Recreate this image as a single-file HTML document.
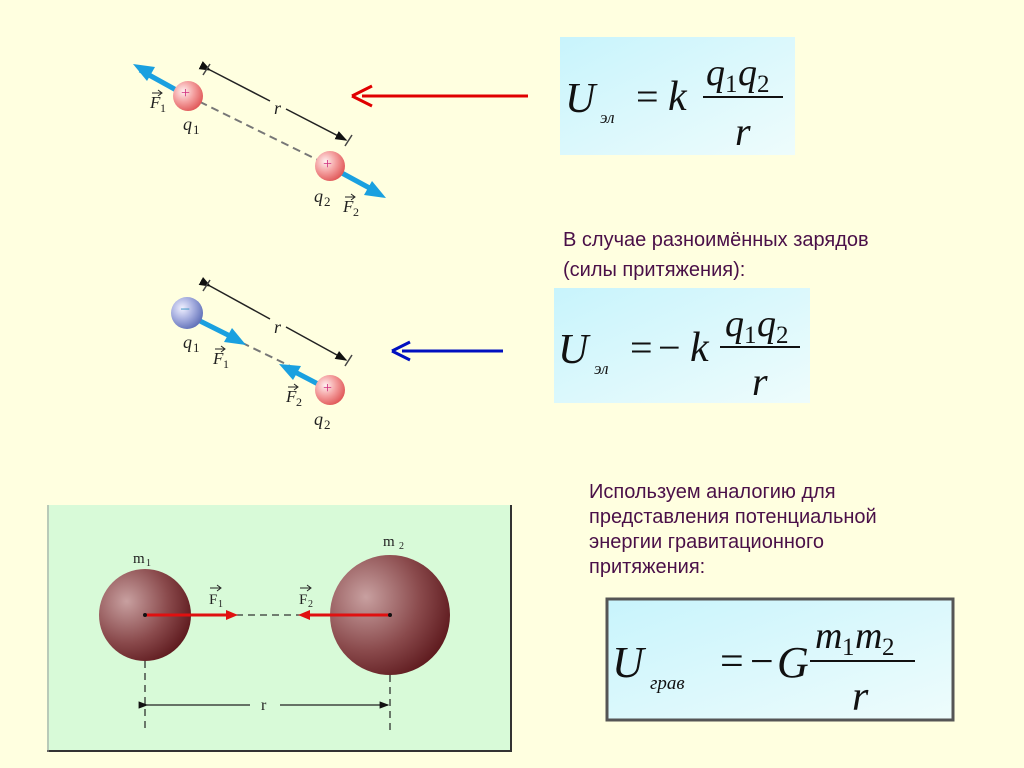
<!DOCTYPE html><html><head><meta charset="utf-8"><style>body{margin:0;background:#FFFFE0}svg{display:block}</style></head><body>
<svg width="1024" height="768" xmlns="http://www.w3.org/2000/svg">
<defs>
<radialGradient id="pk" cx="0.35" cy="0.35" r="0.7"><stop offset="0" stop-color="#fff0f0"/><stop offset="0.5" stop-color="#f4a0a0"/><stop offset="1" stop-color="#e05858"/></radialGradient>
<radialGradient id="bl" cx="0.35" cy="0.35" r="0.7"><stop offset="0" stop-color="#f0f0ff"/><stop offset="0.5" stop-color="#a8b0e0"/><stop offset="1" stop-color="#6070b8"/></radialGradient>
<radialGradient id="br" cx="0.3" cy="0.35" r="0.75"><stop offset="0" stop-color="#c8a0a0"/><stop offset="0.6" stop-color="#8a4a4c"/><stop offset="1" stop-color="#5e1a1e"/></radialGradient>
<linearGradient id="fb" x1="0" y1="0" x2="1" y2="1"><stop offset="0" stop-color="#c8f4fc"/><stop offset="1" stop-color="#eefcfc"/></linearGradient>
<marker id="ab" markerWidth="8" markerHeight="8" refX="7" refY="4" orient="auto"><path d="M0,1 L8,4 L0,7 z" fill="#111"/></marker>
</defs>
<rect width="1024" height="768" fill="#FFFFE0"/>
<!-- top charges -->
<g font-family="Liberation Serif,serif" font-style="italic" fill="#222">
<line x1="188" y1="96" x2="330" y2="166" stroke="#777" stroke-width="2" stroke-dasharray="8,5"/>
<line x1="178" y1="91" x2="140" y2="70" stroke="#1aa0e0" stroke-width="5"/><path d="M133,64 L155,67 L147,81 z" fill="#1aa0e0"/>
<line x1="340" y1="172" x2="375" y2="191" stroke="#1aa0e0" stroke-width="5"/><path d="M386,198 L364,195 L372,181 z" fill="#1aa0e0"/>
<line x1="210" y1="70" x2="270" y2="101" stroke="#222" stroke-width="1.5" marker-start="url(#ab)"/>
<line x1="286" y1="109" x2="346" y2="140" stroke="#222" stroke-width="1.5" marker-end="url(#ab)"/>
<line x1="203" y1="75" x2="210" y2="64" stroke="#444" stroke-width="1.5"/><line x1="345" y1="146" x2="352" y2="135" stroke="#444" stroke-width="1.5"/>
<text x="274" y="114" font-size="18">r</text>
<circle cx="188" cy="96" r="15" fill="url(#pk)"/><text x="181" y="98" font-size="16" fill="#d03080" font-style="normal">+</text>
<circle cx="330" cy="166" r="15" fill="url(#pk)"/><text x="323" y="169" font-size="16" fill="#d03080" font-style="normal">+</text>
<text x="183" y="130" font-size="18">q</text><text x="193" y="134" font-size="13" font-style="normal">1</text>
<text x="314" y="202" font-size="18">q</text><text x="324" y="206" font-size="13" font-style="normal">2</text>
<text x="150" y="108" font-size="17">F</text><text x="160" y="112" font-size="12" font-style="normal">1</text>
<path d="M152,93 L161,93 M158,90 L162,93 L158,96" stroke="#222" fill="none"/>
<text x="343" y="212" font-size="17">F</text><text x="353" y="216" font-size="12" font-style="normal">2</text>
<path d="M345,197 L354,197 M351,194 L355,197 L351,200" stroke="#222" fill="none"/>
</g>
<!-- bottom charges -->
<g font-family="Liberation Serif,serif" font-style="italic" fill="#222">
<line x1="230" y1="337" x2="290" y2="366" stroke="#777" stroke-width="2" stroke-dasharray="8,5"/>
<line x1="198" y1="320" x2="230" y2="336" stroke="#1aa0e0" stroke-width="5"/><path d="M246,345 L224,342 L232,328 z" fill="#1aa0e0"/>
<line x1="318" y1="384" x2="295" y2="372" stroke="#1aa0e0" stroke-width="5"/><path d="M279,364 L301,366 L293,380 z" fill="#1aa0e0"/>
<line x1="210" y1="286" x2="270" y2="319" stroke="#222" stroke-width="1.5" marker-start="url(#ab)"/>
<line x1="286" y1="327" x2="346" y2="360" stroke="#222" stroke-width="1.5" marker-end="url(#ab)"/>
<line x1="203" y1="291" x2="210" y2="280" stroke="#444" stroke-width="1.5"/><line x1="345" y1="366" x2="352" y2="355" stroke="#444" stroke-width="1.5"/>
<text x="274" y="333" font-size="18">r</text>
<circle cx="187" cy="313" r="16" fill="url(#bl)"/><text x="180" y="315" font-size="18" fill="#3090c0" font-style="normal">−</text>
<circle cx="330" cy="390" r="15" fill="url(#pk)"/><text x="323" y="393" font-size="16" fill="#d03080" font-style="normal">+</text>
<text x="183" y="348" font-size="18">q</text><text x="193" y="352" font-size="13" font-style="normal">1</text>
<text x="314" y="425" font-size="18">q</text><text x="324" y="429" font-size="13" font-style="normal">2</text>
<text x="213" y="364" font-size="17">F</text><text x="223" y="368" font-size="12" font-style="normal">1</text>
<path d="M215,349 L224,349 M221,346 L225,349 L221,352" stroke="#222" fill="none"/>
<text x="286" y="402" font-size="17">F</text><text x="296" y="406" font-size="12" font-style="normal">2</text>
<path d="M288,387 L297,387 M294,384 L298,387 L294,390" stroke="#222" fill="none"/>
</g>
<!-- pointer arrows -->
<line x1="528" y1="96" x2="362" y2="96" stroke="#e00000" stroke-width="3"/><path d="M352,96 L372,86 M352,96 L372,106" stroke="#e00000" stroke-width="3" fill="none"/>
<line x1="503" y1="351" x2="402" y2="351" stroke="#0010c0" stroke-width="3"/><path d="M392,351 L410,342 M392,351 L410,360" stroke="#0010c0" stroke-width="3" fill="none"/>
<!-- formula boxes -->
<g font-family="Liberation Serif,serif" font-style="italic" fill="#111">
<rect x="560" y="37" width="235" height="118" fill="url(#fb)"/>
<text x="565" y="112" font-size="42">U</text><text x="600" y="123" font-size="17">эл</text>
<text x="636" y="110" font-size="40" font-style="normal">=</text><text x="668" y="110" font-size="42">k</text>
<text x="706" y="85" font-size="38">q</text><text x="725" y="92" font-size="25" font-style="normal">1</text>
<text x="738" y="85" font-size="38">q</text><text x="757" y="92" font-size="25" font-style="normal">2</text>
<line x1="703" y1="97" x2="783" y2="97" stroke="#111" stroke-width="2"/>
<text x="735" y="145" font-size="40">r</text>

<rect x="554" y="288" width="256" height="115" fill="url(#fb)"/>
<text x="558" y="363" font-size="42">U</text><text x="594" y="374" font-size="17">эл</text>
<text x="630" y="361" font-size="40" font-style="normal">=</text><text x="658" y="361" font-size="40" font-style="normal">−</text>
<text x="690" y="361" font-size="42">k</text>
<text x="725" y="336" font-size="38">q</text><text x="744" y="343" font-size="25" font-style="normal">1</text>
<text x="757" y="336" font-size="38">q</text><text x="776" y="343" font-size="25" font-style="normal">2</text>
<line x1="720" y1="347" x2="800" y2="347" stroke="#111" stroke-width="2"/>
<text x="752" y="395" font-size="40">r</text>

<rect x="607" y="599" width="346" height="121" fill="url(#fb)" stroke="#555" stroke-width="3"/>
<text x="612" y="677" font-size="44">U</text><text x="650" y="689" font-size="19">грав</text>
<text x="720" y="675" font-size="42" font-style="normal">=</text><text x="750" y="675" font-size="42" font-style="normal">−</text>
<text x="777" y="677" font-size="44">G</text>
<text x="815" y="648" font-size="38">m</text><text x="842" y="655" font-size="25" font-style="normal">1</text>
<text x="855" y="648" font-size="38">m</text><text x="882" y="655" font-size="25" font-style="normal">2</text>
<line x1="810" y1="661" x2="915" y2="661" stroke="#111" stroke-width="2"/>
<text x="852" y="710" font-size="42">r</text>
</g>
<!-- texts -->
<g font-family="Liberation Sans,sans-serif" font-size="20" fill="#4a1048">
<text x="563" y="246">В случае разноимённых зарядов</text>
<text x="563" y="276">(силы притяжения):</text>
<text x="589" y="498">Используем аналогию для</text>
<text x="589" y="523">представления потенциальной</text>
<text x="589" y="548">энергии гравитационного</text>
<text x="589" y="573">притяжения:</text>
</g>
<!-- gravity box -->
<rect x="47" y="505" width="465" height="247" fill="#D8FAD8"/>
<line x1="511" y1="505" x2="511" y2="752" stroke="#333" stroke-width="2"/>
<line x1="47" y1="751" x2="512" y2="751" stroke="#333" stroke-width="2"/>
<line x1="48" y1="505" x2="48" y2="752" stroke="#999" stroke-width="1"/>
<circle cx="145" cy="615" r="46" fill="url(#br)"/>
<circle cx="390" cy="615" r="60" fill="url(#br)"/>
<line x1="236" y1="615" x2="300" y2="615" stroke="#333" stroke-width="1.2" stroke-dasharray="7,5"/>
<line x1="145" y1="615" x2="230" y2="615" stroke="#e01010" stroke-width="3"/><path d="M238,615 L226,610 L226,620 z" fill="#e01010"/>
<line x1="390" y1="615" x2="308" y2="615" stroke="#e01010" stroke-width="3"/><path d="M298,615 L310,610 L310,620 z" fill="#e01010"/>
<circle cx="145" cy="615" r="2" fill="#111"/><circle cx="390" cy="615" r="2" fill="#111"/>
<line x1="145" y1="661" x2="145" y2="732" stroke="#222" stroke-width="1.2" stroke-dasharray="7,5"/>
<line x1="390" y1="675" x2="390" y2="732" stroke="#222" stroke-width="1.2" stroke-dasharray="7,5"/>
<line x1="147" y1="705" x2="250" y2="705" stroke="#222" stroke-width="1.2" marker-start="url(#ab)"/>
<line x1="280" y1="705" x2="388" y2="705" stroke="#222" stroke-width="1.2" marker-end="url(#ab)"/>
<g font-family="Liberation Serif,serif" fill="#222">
<text x="261" y="710" font-size="16">r</text>
<text x="133" y="563" font-size="15">m</text><text x="146" y="566" font-size="10">1</text>
<text x="383" y="546" font-size="15">m</text><text x="399" y="549" font-size="10">2</text>
<text x="209" y="604" font-size="15">F</text><text x="218" y="607" font-size="10">1</text>
<text x="299" y="604" font-size="15">F</text><text x="308" y="607" font-size="10">2</text>
<path d="M210,588 L220,588 M217,585 L221,588 L217,591" stroke="#222" fill="none"/>
<path d="M300,588 L310,588 M307,585 L311,588 L307,591" stroke="#222" fill="none"/>
</g>
</svg>
</body></html>
